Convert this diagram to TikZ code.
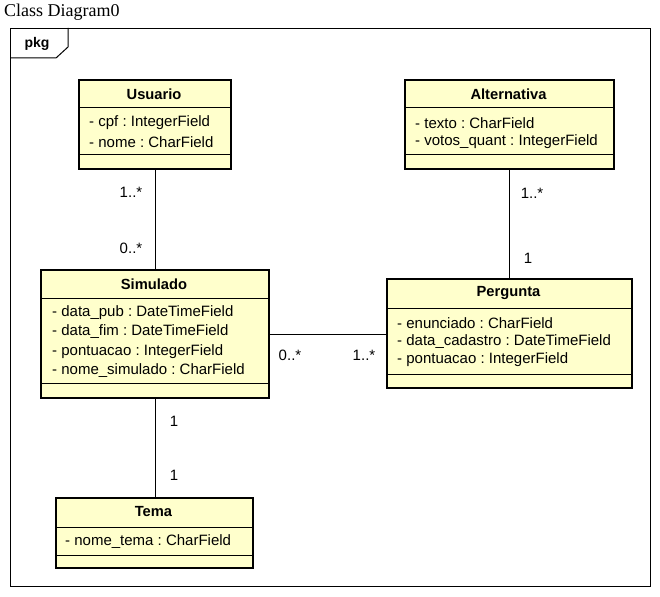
\documentclass[tikz,border=0pt]{standalone}
\usepackage{fontspec}
\setmainfont{Liberation Sans}
\newfontfamily\captionserif{Liberation Serif}
\definecolor{classfill}{RGB}{255,255,204}
\frenchspacing
\begin{document}
\begin{tikzpicture}[x=1pt,y=-1pt,
  cls/.style={draw=black, line width=2pt, fill=classfill, rectangle, inner sep=0pt, anchor=north west},
  sep/.style={line width=1pt},
  ctitle/.style={font=\fontsize{14.7}{16}\selectfont\bfseries, inner sep=0pt},
  attr/.style={font=\fontsize{15}{17}\selectfont, anchor=west, inner sep=0pt},
  mult/.style={font=\fontsize{15}{17}\selectfont, inner sep=0pt},
  assoc/.style={line width=1pt}]
\useasboundingbox (0,0) rectangle (660,596);
\fill[white] (0,0) rectangle (660,596);

% diagram caption and package frame
\node[font=\captionserif\fontsize{18}{20}\selectfont, anchor=west, inner sep=0pt] (caption) at (4,12) {Class Diagram0};
\node[draw=black, line width=1pt, rectangle, inner sep=0pt, anchor=north west,
      minimum width=640pt, minimum height=558pt] (frame) at (10,28) {};
\draw[line width=1pt] (10,58) -- (56,58) -- (68,47) -- (68,28);
\node[font=\fontsize{14}{16}\selectfont\bfseries, inner sep=0pt] (pkg) at (37,44) {pkg};

% Usuario
\node[cls, minimum width=152pt, minimum height=89pt] (usuario) at (78,79) {};
\draw[sep] (78,108) -- (230,108);
\draw[sep] (78,155) -- (230,155);
\node[ctitle] (usuarioT) at (154,94) {Usuario};
\node[attr] (usuarioA1) at (89,123) {- cpf : IntegerField};
\node[attr] (usuarioA2) at (89,142) {- nome : CharField};

% Alternativa
\node[cls, minimum width=209pt, minimum height=89pt] (alternativa) at (404,79) {};
\draw[sep] (404,108) -- (613,108);
\draw[sep] (404,155) -- (613,155);
\node[ctitle] (alternativaT) at (508.5,94) {Alternativa};
\node[attr] (alternativaA1) at (415,123) {- texto : CharField};
\node[attr] (alternativaA2) at (415,142) {- votos\_quant : IntegerField};

% Simulado
\node[cls, minimum width=228pt, minimum height=128pt] (simulado) at (40,269) {};
\draw[sep] (40,298) -- (268,298);
\draw[sep] (40,383) -- (268,383);
\node[ctitle] (simuladoT) at (154,284) {Simulado};
\node[attr] (simuladoA1) at (52,313) {- data\_pub : DateTimeField};
\node[attr] (simuladoA2) at (52,332) {- data\_fim : DateTimeField};
\node[attr] (simuladoA3) at (52,352) {- pontuacao : IntegerField};
\node[attr] (simuladoA4) at (52,371) {- nome\_simulado : CharField};

% Pergunta
\node[cls, minimum width=245pt, minimum height=109pt] (pergunta) at (386,278) {};
\draw[sep] (386,308) -- (631,308);
\draw[sep] (386,374) -- (631,374);
\node[ctitle] (perguntaT) at (508.5,293) {Pergunta};
\node[attr] (perguntaA1) at (397,323) {- enunciado : CharField};
\node[attr] (perguntaA2) at (397,342) {- data\_cadastro : DateTimeField};
\node[attr] (perguntaA3) at (397,360) {- pontuacao : IntegerField};

% Tema
\node[cls, minimum width=197pt, minimum height=70pt] (tema) at (55,497) {};
\draw[sep] (55,527) -- (252,527);
\draw[sep] (55,555) -- (252,555);
\node[ctitle] (temaT) at (153.5,512) {Tema};
\node[attr] (temaA1) at (65,542) {- nome\_tema : CharField};

% associations (kept straight: each runs along its source's axis)
\draw[assoc] (usuario.south) -- (usuario.south |- simulado.north);
\draw[assoc] (alternativa.south) -- (alternativa.south |- pergunta.north);
\draw[assoc] (simulado.east) -- (simulado.east -| pergunta.west);
\draw[assoc] (simulado.south) -- (simulado.south |- tema.north);

% multiplicities
\node[mult] (m1) at (131,192) {1..*};
\node[mult] (m2) at (131,248) {0..*};
\node[mult] (m3) at (532,193) {1..*};
\node[mult] (m4) at (528,258) {1};
\node[mult] (m5) at (290,355) {0..*};
\node[mult] (m6) at (364,355) {1..*};
\node[mult] (m7) at (174,421) {1};
\node[mult] (m8) at (174,475) {1};
\end{tikzpicture}
\end{document}
